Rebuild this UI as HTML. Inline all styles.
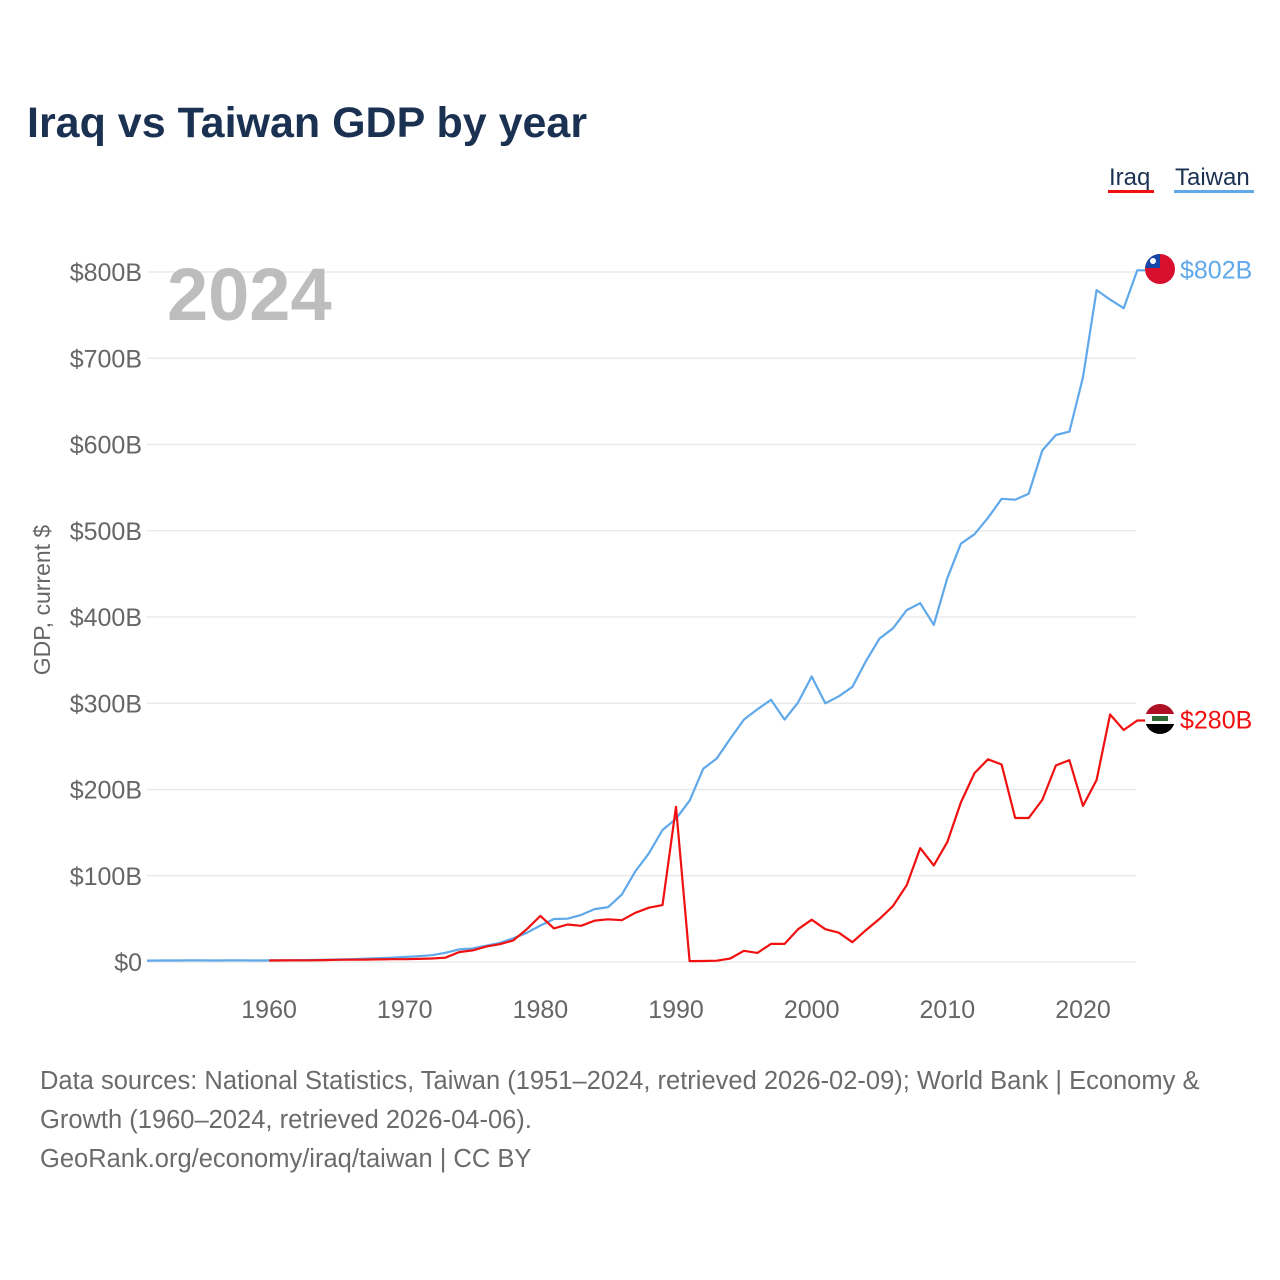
<!DOCTYPE html>
<html><head><meta charset="utf-8"><style>
body{margin:0;background:#fff;}
svg{display:block;font-family:"Liberation Sans",sans-serif;}
</style></head><body>
<svg id="chart" width="1280" height="1280" viewBox="0 0 1280 1280">
<text x="27" y="137" font-size="43" font-weight="bold" fill="#1b3152">Iraq vs Taiwan GDP by year</text>
<g>
<text x="1109" y="185" font-size="24" fill="#1b3152">Iraq</text>
<rect x="1108" y="190" width="46" height="3" fill="#f01010"/>
<text x="1175" y="185" font-size="24" fill="#1b3152">Taiwan</text>
<rect x="1174" y="190" width="80" height="3" fill="#5fa8ea"/>
</g>
<g id="grid"></g>
<g id="yticks"></g>
<g id="xticks"></g>
<text x="167" y="320" font-size="74" font-weight="bold" fill="#bdbdbd">2024</text>
<text transform="translate(50,600) rotate(-90)" text-anchor="middle" font-size="23" fill="#666">GDP, current $</text>
<g id="lines"></g>
<g>
<clipPath id="c1"><circle cx="1160" cy="269" r="15"/></clipPath>
<g clip-path="url(#c1)"><rect x="1145" y="254" width="30" height="30" fill="#d8102e"/><rect x="1145" y="254" width="15" height="14" fill="#1447a8"/><circle cx="1153" cy="261" r="3" fill="#fff"/></g>
</g>
<g>
<clipPath id="c2"><circle cx="1160" cy="719" r="15"/></clipPath>
<g clip-path="url(#c2)"><rect x="1145" y="704" width="30" height="10" fill="#b01025"/><rect x="1145" y="714" width="30" height="10" fill="#fff"/><rect x="1145" y="724" width="30" height="10" fill="#000"/><rect x="1152" y="716" width="16" height="5" fill="#2f6a35"/></g>
</g>
<text id="lblT" x="1180" y="277" font-size="25" fill="#5fa8ea">$802B</text>
<text id="lblI" x="1180" y="727" font-size="25" fill="#f01010">$280B</text>
<g font-size="25.5" fill="#6b6b6b">
<text x="40" y="1089">Data sources: National Statistics, Taiwan (1951–2024, retrieved 2026-02-09); World Bank | Economy &amp;</text>
<text x="40" y="1128">Growth (1960–2024, retrieved 2026-04-06).</text>
<text x="40" y="1167">GeoRank.org/economy/iraq/taiwan | CC BY</text>
</g>
</svg>
<script>
const yTicks=[0,100,200,300,400,500,600,700,800];
const xTicks=[1960,1970,1980,1990,2000,2010,2020];
const taiwanStart=1951;
const taiwanValues=[1.6,1.7,1.7,1.8,1.9,1.7,1.8,1.8,1.7,1.9,2.0,2.1,2.3,2.6,2.9,3.3,3.8,4.4,5.0,5.8,6.7,7.9,10.7,14.6,15.7,18.9,22.2,27.5,33.9,42.3,49.8,50.2,54.6,61.3,63.6,78.2,105,126,153,166,187,224,236,259,281,293,304,281,301,331,300,308,319,349,375,387,408,416,391,445,485,496,515,537,536,543,593,611,615,678,779,768,758,802];
const iraqStart=1960;
const iraqValues=[1.7,1.9,2.0,2.0,2.2,2.5,2.7,2.8,3.0,3.2,3.3,3.6,4.0,5.0,11.5,13.5,17.8,20.6,25.0,38.0,53.5,39.0,43.5,42.0,48.0,49.5,48.5,57.0,63.0,66.0,180.0,1.0,1.2,1.5,4.0,13.0,10.5,21.0,21.0,38.0,49.0,38.0,34.0,23.0,37.0,50.0,65.0,89.0,132.0,112.0,139.0,185.0,219.0,235.0,229.0,167.0,167.0,188.0,228.0,234.0,181.0,211.0,287.0,269.0,280.0];
const NS='http://www.w3.org/2000/svg';
const x=yr=>147+(yr-1951)*(1083-147)/(2020-1951);
const y=v=>962-v*0.8625;
function mk(tag,attrs,parent){const e=document.createElementNS(NS,tag);for(const k in attrs)e.setAttribute(k,attrs[k]);document.getElementById(parent).appendChild(e);return e;}
yTicks.forEach(v=>{
  const l=mk('line',{x1:147,x2:1136,y1:y(v),y2:y(v),stroke:'#e6e6e6','stroke-width':1.2},'grid');
  
  
  const t=mk('text',{x:142,y:y(v)+9,'text-anchor':'end','font-size':25,fill:'#666'},'yticks');
  t.textContent='$'+v+(v===0?'':'B');
  
  
});
xTicks.forEach(v=>{
  const t=mk('text',{x:x(v),y:1018,'text-anchor':'middle','font-size':25,fill:'#666'},'xticks');
  t.textContent=v;
  
  
});
function series(vals,start,color,name){
  const pts=vals.map((v,i)=>x(start+i).toFixed(1)+','+y(v).toFixed(1));
  const last=vals[vals.length-1];
  pts.push((x(start+vals.length-1)+8).toFixed(1)+','+y(last).toFixed(1));
  const p=mk('polyline',{points:pts.join(' '),fill:'none',stroke:color,'stroke-width':2.2,'stroke-linejoin':'round'},'lines');
  
  
  return last;
}
const lt=series(taiwanValues,taiwanStart,'#5fa8ea','taiwan-line');
const li=series(iraqValues,iraqStart,'#f01010','iraq-line');
const lT=document.getElementById('lblT');lT.textContent='$'+Math.round(lt)+'B';lT.setAttribute('y',y(lt)+8);
const lI=document.getElementById('lblI');lI.textContent='$'+Math.round(li)+'B';lI.setAttribute('y',y(li)+8);
</script>
</body></html>
